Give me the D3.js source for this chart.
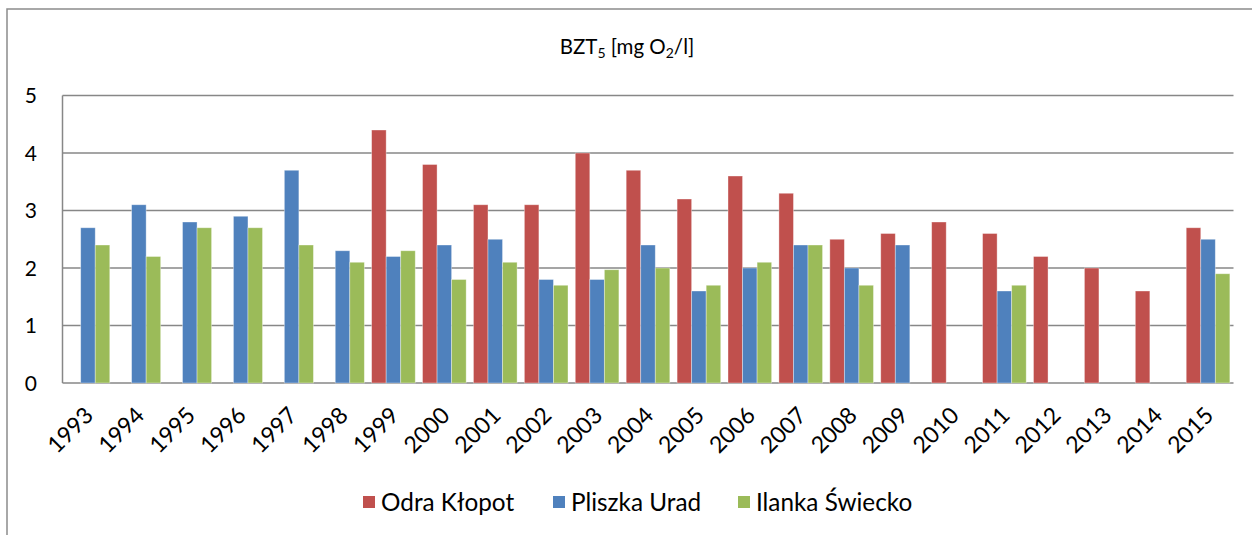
<!DOCTYPE html>
<html><head><meta charset="utf-8">
<script src="https://cdn.jsdelivr.net/npm/d3@7"></script>
<style>body{margin:0;background:#fff}svg{display:block;font-family:Lato,"Open Sans",sans-serif}</style>
</head><body><svg id="c" width="1252" height="535"></svg>
<script>
const years = ["1993","1994","1995","1996","1997","1998","1999","2000","2001","2002","2003","2004","2005","2006","2007","2008","2009","2010","2011","2012","2013","2014","2015"];
const odra    = [null,null,null,null,null,null,4.4,3.8,3.1,3.1,4.0,3.7,3.2,3.6,3.3,2.5,2.6,2.8,2.6,2.2,2.0,1.6,2.7];
const pliszka = [2.7,3.1,2.8,2.9,3.7,2.3,2.2,2.4,2.5,1.8,1.8,2.4,1.6,2.0,2.4,2.0,2.4,null,1.6,null,null,null,2.5];
const ilanka  = [2.4,2.2,2.7,2.7,2.4,2.1,2.3,1.8,2.1,1.7,1.97,2.0,1.7,2.1,2.4,1.7,null,null,1.7,null,null,null,1.9];
const seriesNames = ["Odra Kłopot","Pliszka Urad","Ilanka Świecko"];
const colors = ["#C0504D","#4F81BD","#9BBB59"];
const yTicks = [0,1,2,3,4,5];

const svg = d3.select("#c");
const L=62.5, R=1233.5, T=95.5, B=383;
svg.append("rect").attr("x",7).attr("y",9).attr("width",1300).attr("height",600)
  .attr("fill","none").attr("stroke","#8c8c8c").attr("stroke-width",1.5);

const x = d3.scaleBand().domain(years).range([L,R]).paddingInner(0).paddingOuter(0);
const y = d3.scaleLinear().domain([0,5]).range([B,T]);
const x1 = d3.scaleBand().domain([0,1,2]).range([0,x.bandwidth()]).paddingInner(0).paddingOuter(0.25);

// gridlines
svg.append("g").selectAll("line").data(yTicks).join("line")
  .attr("x1",L).attr("x2",R).attr("y1",d=>y(d)).attr("y2",d=>y(d))
  .attr("stroke","#878787").attr("stroke-width",1.5);
svg.append("line").attr("x1",L).attr("x2",L).attr("y1",T).attr("y2",B).attr("stroke","#878787").attr("stroke-width",1.5);

// y labels
svg.append("g").selectAll("text").data(yTicks).join("text")
  .attr("x",37).attr("y",d=>y(d)).attr("dy","0.36em").attr("text-anchor","end")
  .attr("font-size",21).attr("fill","#000").text(d=>d);

// bars
const data = [odra,pliszka,ilanka];
data.forEach((vals,si)=>{
  svg.append("g").selectAll("rect").data(vals.map((v,i)=>({v,i})).filter(d=>d.v!=null)).join("rect")
    .attr("x",d=>x(years[d.i])+x1(si)).attr("width",x1.bandwidth())
    .attr("y",d=>y(d.v)).attr("height",d=>B-y(d.v))
    .attr("fill",colors[si]).attr("stroke","rgba(255,255,255,0.45)").attr("stroke-width",0.8);
});

// x labels
svg.append("g").selectAll("text").data(years).join("text")
  .attr("transform",d=>`translate(${x(d)+x.bandwidth()/2+1},${B+28}) rotate(-45)`)
  .attr("text-anchor","end").attr("dy","0.36em").attr("font-size",23).attr("fill","#000").text(d=>d);

// title
const t = svg.append("text").attr("x",627).attr("y",54).attr("text-anchor","middle").attr("font-size",20.5).attr("fill","#000");
t.append("tspan").text("BZT");
t.append("tspan").attr("font-size",14).attr("dy",4).text("5");
t.append("tspan").attr("dy",-4).text(" [mg O");
t.append("tspan").attr("font-size",14).attr("dy",4).text("2");
t.append("tspan").attr("dy",-4).text("/l]");

// legend
const legX = [363,553,738];
seriesNames.forEach((n,i)=>{
  svg.append("rect").attr("x",legX[i]).attr("y",496).attr("width",12).attr("height",12).attr("fill",colors[i]);
  svg.append("text").attr("x",legX[i]+18).attr("y",502).attr("dy","0.36em").attr("font-size",24.3).attr("fill","#000").text(n);
});
</script></body></html>
